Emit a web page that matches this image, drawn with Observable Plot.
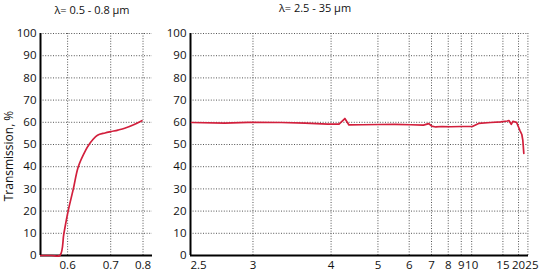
<!DOCTYPE html>
<html><head><meta charset="utf-8">
<script src="https://cdn.jsdelivr.net/npm/d3@7"></script>
<script src="https://cdn.jsdelivr.net/npm/@observablehq/plot@0.6"></script>
<style>
body{margin:0;background:#fff;font-family:"Open Sans",sans-serif;}
#wrap{position:relative;width:542px;height:276px;overflow:hidden;}
#left,#right{position:absolute;top:0}
#left{left:0}
#right{left:160px}
.title{position:absolute;font-size:11px;color:#111;white-space:nowrap;transform:translateX(-50%);}
#ylab{position:absolute;font-size:12px;color:#111;white-space:nowrap;left:8px;top:156px;transform:translate(-50%,-50%) rotate(-90deg);}
</style></head><body>
<div id="wrap">
<div id="left"></div><div id="right"></div>
<div class="title" style="left:92px;top:2px">λ= 0.5 - 0.8 µm</div>
<div class="title" style="left:315px;top:0px">λ= 2.5 - 35 µm</div>
<div id="ylab">Transmission, %</div>
</div>
<script>
// Visible spectral range 0.5–0.8 µm
const visLambda = [0.551, 0.570, 0.585, 0.5927, 0.601, 0.6116, 0.622, 0.638, 0.646, 0.654, 0.666, 0.685, 0.700, 0.720, 0.740, 0.770, 0.796];
const visT      = [0,     0,     0,     10,     20,    30,     40,    47.4,  50,    52,    54.2,  55.2,  55.8,  56.5,  57.3,  59,    60.7];
// IR range 2.5–35 µm
const irLambda = [2.507, 2.75, 2.953, 3.30, 3.60, 3.945, 4.14, 4.25, 4.33, 4.60, 5.03, 5.50, 6.06, 6.60, 6.86, 7.01, 7.23, 7.60, 8.17, 9.00, 10.07, 10.80, 12.53, 14.5, 16.12, 16.58, 17.31, 17.84, 19.18, 20.57, 21.51, 22.00, 22.54];
const irT      = [59.9,  59.6, 60.0,  59.9, 59.6, 59.2,  59.2, 61.7, 58.8, 58.9, 59.0, 59.1, 58.9, 58.7, 59.4, 58.3, 57.9, 58.1, 58.0, 58.1, 58.1,  59.5,  59.9,  60.2, 60.6,  60.8,  59.1,  60.4,  60.0,  56.4,  54.5,  52.0,  46.0];
const visTicks = [0.6, 0.7, 0.8];
const irTicks  = [2.5, 3, 4, 5, 6, 7, 8, 9, 10, 15, 20, 25];
const yTicks   = [0, 10, 20, 30, 40, 50, 60, 70, 80, 90, 100];

const vis = visLambda.map((l, i) => ({l, t: visT[i]}));
const ir  = irLambda.map((l, i) => ({l, t: irT[i]}));
const RED = "#d21f3c";
const FONT = "Open Sans";
const FS = 11.5;
const grid = {stroke: "#555", strokeOpacity: 1, strokeDasharray: "1,1.6", strokeWidth: 1};

function panel({data, domain, xticks, width, marginLeft, marginRight, ir, curve}) {
  const inv = xticks.map(v => 1 / v);
  const fmt = d => String(Math.round(1 / d * 100) / 100);
  const axisTicks = ir ? inv.slice(1, -1) : inv;
  const lab = {frameAnchor: "bottom", lineAnchor: "top", dy: 5, text: fmt, fontSize: FS, fill: "#111"};
  const extra = ir ? [
    Plot.text([inv[0]], {...lab, x: d => d, textAnchor: "start"}),
    Plot.text([inv[inv.length - 1]], {...lab, x: d => d, dx: 4})
  ] : [];
  return Plot.plot({
    width, height: 276,
    marginLeft, marginRight, marginTop: 33, marginBottom: 21,
    style: {fontFamily: FONT, fontSize: FS + "px", color: "#111", background: "white", overflow: "visible"},
    x: {type: "linear", domain, ticks: inv},
    y: {domain: [0, 100], ticks: yTicks},
    marks: [
      Plot.gridX(inv, grid),
      Plot.gridY(yTicks.slice(1), grid),
      Plot.axisY(yTicks, {tickSize: 0, tickPadding: 4, label: null, fontSize: FS}),
      Plot.axisX(axisTicks, {tickSize: 0, tickPadding: 5, tickFormat: fmt, label: null, fontSize: FS}),
      ...extra,
      Plot.ruleX([domain[0]], {stroke: "black", strokeWidth: 2}),
      Plot.ruleY([0], {stroke: "black", strokeWidth: 2}),
      Plot.line(data, {x: d => 1 / d.l, y: "t", stroke: RED, strokeWidth: 1.7, curve})
    ]
  });
}

document.getElementById("left").append(panel({
  data: vis, domain: [1 / 0.5505, 1 / 0.835], xticks: visTicks,
  width: 160, marginLeft: 40, marginRight: 8, curve: "catmull-rom"
}));
document.getElementById("right").append(panel({
  data: ir, domain: [1 / 2.5, 1 / 25.4], xticks: irTicks,
  width: 382, marginLeft: 30, marginRight: 14, ir: true, curve: "linear"
}));
</script>
</body></html>
